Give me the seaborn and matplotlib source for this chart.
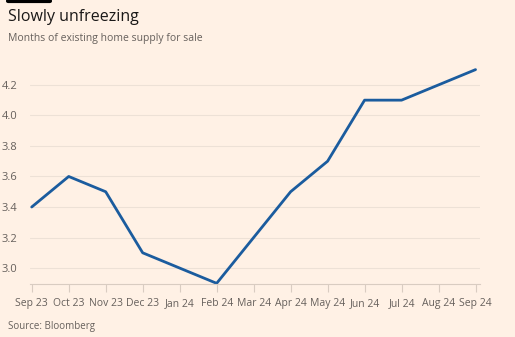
import matplotlib
matplotlib.use("Agg")
import matplotlib.pyplot as plt
import seaborn as sns
import pandas as pd

months = ["Sep 23", "Oct 23", "Nov 23", "Dec 23", "Jan 24", "Feb 24", "Mar 24",
          "Apr 24", "May 24", "Jun 24", "Jul 24", "Aug 24", "Sep 24"]
supply = [3.4, 3.6, 3.5, 3.1, 3.0, 2.9, 3.2, 3.5, 3.7, 4.1, 4.1, 4.2, 4.3]
yticks = [3.0, 3.2, 3.4, 3.6, 3.8, 4.0, 4.2]

bg = "#FFF1E5"
txt = "#66605C"
grid = "#EDE1D6"

sns.set_theme(style="white")
plt.rcParams["font.family"] = ["Open Sans", "DejaVu Sans"]

df = pd.DataFrame({"pos": range(len(months)), "value": supply})

fig = plt.figure(figsize=(5.15, 3.37), dpi=100, facecolor=bg)
ax = fig.add_axes([0.058, 0.157, 0.874, 0.65], facecolor=bg)

sns.lineplot(data=df, x="pos", y="value", ax=ax, color="#1B5C9E", linewidth=2)

ax.set_xlim(-0.05, len(months) - 1 + 0.12)
ax.set_ylim(2.895, 4.33)
ax.set_yticks(yticks)
ax.set_yticklabels([f"{v:.1f}" for v in yticks])
ax.set_xticks(range(len(months)))
ax.set_xticklabels(months)
ax.set_xlabel("")
ax.set_ylabel("")

for y in yticks:
    ax.axhline(y, color=grid, linewidth=0.8, zorder=0)

for s in ["top", "right", "left"]:
    ax.spines[s].set_visible(False)
ax.spines["bottom"].set_color("#D9CCC1")
ax.spines["bottom"].set_linewidth(0.8)

ax.tick_params(axis="x", which="both", bottom=True, length=6, width=0.8,
               color="#D9CCC1", labelsize=7.5, labelcolor=txt, pad=4)
ax.tick_params(axis="y", left=False, labelsize=8, labelcolor=txt, pad=3)

fig.text(0.016, 0.95, "Slowly unfreezing", fontsize=11.5, color="#1A1817",
         ha="left", va="center")
fig.text(0.016, 0.887, "Months of existing home supply for sale", fontsize=7.5,
         color=txt, ha="left", va="center")
fig.text(0.016, 0.03, "Source: Bloomberg", fontsize=7, color=txt,
         ha="left", va="center")
fig.add_artist(plt.Line2D([0.016, 0.097], [0.997, 0.997], color="black",
                          linewidth=3, transform=fig.transFigure))

fig.savefig("out.png", dpi=100, facecolor=bg)
